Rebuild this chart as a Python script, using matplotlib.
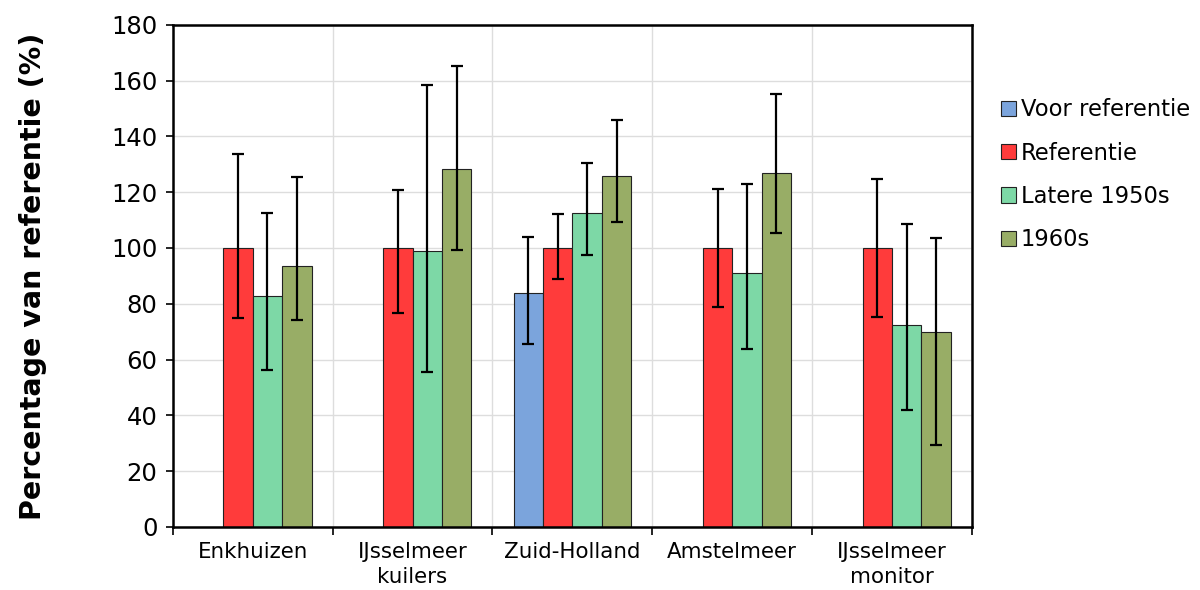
import numpy as np
import matplotlib
matplotlib.use('Agg')
from matplotlib import pyplot as plt

#%% data
locations = ['Enkhuizen', 'IJsselmeer\nkuilers', 'Zuid-Holland', 'Amstelmeer', 'IJsselmeer\nmonitor']
series = ['Voor referentie', 'Referentie', 'Latere 1950s', '1960s']
colors = ['#7ba4dc', '#ff3b3b', '#7dd8a6', '#98ad66']

voor = [np.nan, np.nan, 84.0, np.nan, np.nan]
voor_lo = [np.nan, np.nan, 65.5, np.nan, np.nan]
voor_hi = [np.nan, np.nan, 103.9, np.nan, np.nan]

ref = [100, 100, 100, 100, 100]
ref_lo = [74.8, 76.6, 88.8, 79.0, 75.4]
ref_hi = [133.6, 120.8, 112.2, 121.2, 124.8]

late50 = [82.6, 99.0, 112.5, 91.0, 72.2]
late50_lo = [56.3, 55.7, 97.5, 63.7, 42.0]
late50_hi = [112.5, 158.5, 130.4, 122.9, 108.5]

sixties = [93.7, 128.4, 125.9, 126.8, 69.8]
sixties_lo = [74.2, 99.1, 109.4, 105.3, 29.2]
sixties_hi = [125.6, 165.3, 145.7, 155.2, 103.7]

values = [voor, ref, late50, sixties]
lows = [voor_lo, ref_lo, late50_lo, sixties_lo]
highs = [voor_hi, ref_hi, late50_hi, sixties_hi]

#%%
fig = plt.figure(figsize=(12, 5.9), dpi=100)
ax = fig.add_axes([0.144, 0.107, 0.666, 0.851])

x = np.arange(len(locations))
width = 0.184
for i, (name, vals, lo, hi, c) in enumerate(zip(series, values, lows, highs, colors)):
    vals = np.array(vals, dtype=float)
    err = [vals - np.array(lo, dtype=float), np.array(hi, dtype=float) - vals]
    pos = x + (i - 1.5) * width
    ax.bar(pos, vals, width, color=c, edgecolor='#222222', linewidth=0.8, label=name, zorder=2)
    ax.errorbar(pos, vals, yerr=err, fmt='none', ecolor='black', elinewidth=1.6,
                capsize=4, capthick=1.6, zorder=3)

ax.set_xlim(-0.5, len(locations) - 0.5)
ax.set_ylim(0, 180)
ax.set_yticks(np.arange(0, 181, 20))
ax.set_xticks(np.arange(-0.5, len(locations), 1))
ax.set_xticklabels([])
ax.set_xticks(x, minor=True)
ax.set_xticklabels(locations, minor=True, fontsize=15.4, linespacing=1.32)
ax.tick_params(axis='x', which='minor', length=0, pad=11)
ax.tick_params(axis='x', which='major', length=6, width=1.2, direction='out')
ax.tick_params(axis='y', labelsize=17.5, length=5, width=1.2, pad=6)
ax.grid(True, which='major', color='#dddddd', linewidth=1, zorder=0)
ax.set_axisbelow(True)
for s in ax.spines.values():
    s.set_linewidth(1.8)
    s.set_color('black')

ax.set_ylabel('Percentage van referentie (%)', fontsize=20.5, fontweight='bold', labelpad=46)

fig.legend(loc='upper left', bbox_to_anchor=(0.827, 0.849), frameon=False, fontsize=16.3,
           handlelength=0.66, handleheight=0.66, handletextpad=0.2, labelspacing=0.9,
           borderaxespad=0)

fig.savefig('out.png', dpi=100)
